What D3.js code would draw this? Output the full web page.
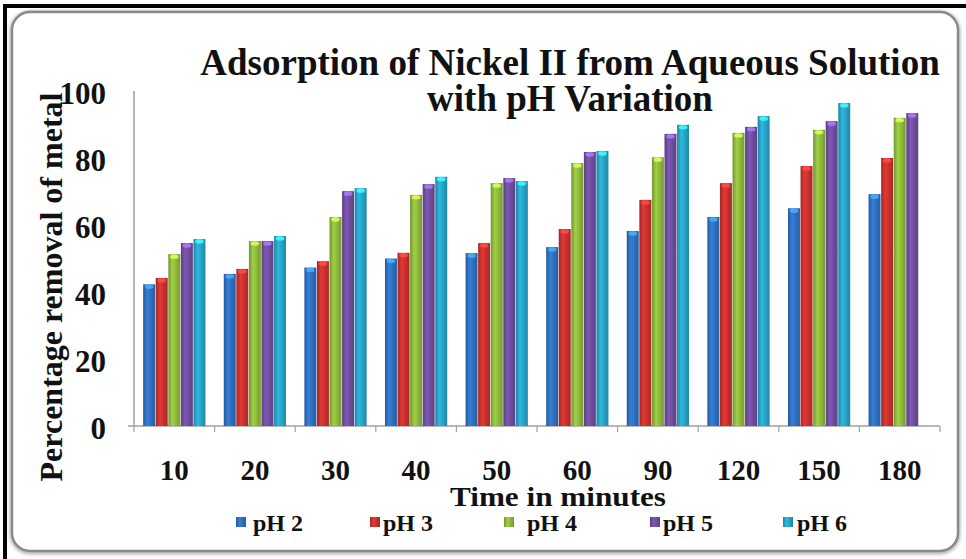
<!DOCTYPE html>
<html>
<head>
<meta charset="utf-8">
<script src="https://cdn.jsdelivr.net/npm/d3@7"></script>
<style>
  body { margin: 0; background: #fff; }
</style>
</head>
<body>
<div id="chart"></div>
<script>
// chart data
var times = ["10", "20", "30", "40", "50", "60", "90", "120", "150", "180"];
var seriesNames = ["pH 2", "pH 3", "pH 4", "pH 5", "pH 6"];
var ph2 = [42.3, 45.4, 47.3, 50.0, 51.6, 53.4, 58.2, 62.4, 65.0, 69.2];
var ph3 = [44.2, 46.9, 49.2, 51.7, 54.6, 58.8, 67.5, 72.5, 77.6, 80.0];
var ph4 = [51.3, 55.2, 62.4, 69.0, 72.5, 78.5, 80.2, 87.5, 88.4, 92.0];
var ph5 = [54.6, 55.2, 70.1, 72.2, 74.0, 81.8, 87.2, 89.3, 91.0, 93.4];
var ph6 = [55.8, 56.7, 71.0, 74.4, 73.1, 82.1, 89.9, 92.5, 96.4, null];
var yTicks = [0, 20, 40, 60, 80, 100];

var allSeries = [ph2, ph3, ph4, ph5, ph6];
var colors = ["#2f6fbf", "#c8312d", "#8db83c", "#6f4e9e", "#27a3c6"];
var serif = "'Liberation Serif', 'Times New Roman', serif";

var W = 966, H = 559;
var svg = d3.select("#chart").append("svg")
    .attr("width", W).attr("height", H)
    .attr("font-family", serif).attr("font-weight", "bold");

var defs = svg.append("defs");
// cylinder-ish shading for the bars
colors.forEach(function(c, i) {
    var g = defs.append("linearGradient").attr("id", "grad" + i)
        .attr("x1", "0%").attr("x2", "100%").attr("y1", "0%").attr("y2", "0%");
    g.append("stop").attr("offset", "0%").attr("stop-color", d3.color(c).darker(0.6));
    g.append("stop").attr("offset", "35%").attr("stop-color", d3.color(c).brighter(0.35));
    g.append("stop").attr("offset", "100%").attr("stop-color", d3.color(c).darker(0.5));
});
var shadow = defs.append("filter").attr("id", "shadow")
    .attr("x", "-5%").attr("y", "-5%").attr("width", "110%").attr("height", "110%");
shadow.append("feGaussianBlur").attr("stdDeviation", 1.5);

// frame
svg.append("rect").attr("x", 0).attr("y", 0).attr("width", W).attr("height", H).attr("fill", "#fff");
svg.append("rect").attr("x", 12).attr("y", 13).attr("width", 946).attr("height", 539)
    .attr("rx", 18).attr("fill", "none").attr("stroke", "#bbb").attr("stroke-width", 5)
    .attr("filter", "url(#shadow)");
svg.append("rect").attr("x", 12).attr("y", 12).attr("width", 946).attr("height", 539)
    .attr("rx", 18).attr("fill", "#fff").attr("stroke", "#8a8a8a").attr("stroke-width", 2.5);
svg.append("rect").attr("x", 3).attr("y", 4).attr("width", W).attr("height", 4).attr("fill", "#000");
svg.append("rect").attr("x", 3).attr("y", 4).attr("width", 4).attr("height", H).attr("fill", "#000");

var x = d3.scaleBand().domain(times).range([134, 940])
    .paddingInner(0.22).paddingOuter(0.11);
var xs = d3.scaleBand().domain(d3.range(seriesNames.length)).range([0, x.bandwidth()]);
var y = d3.scaleLinear().domain([0, 100]).range([426, 91]);

// axes lines
svg.append("line").attr("x1", 134).attr("x2", 134).attr("y1", y(100)).attr("y2", y(0))
    .attr("stroke", "#a0a0a0").attr("stroke-width", 1.5);
svg.append("line").attr("x1", 128).attr("x2", 940).attr("y1", y(0)).attr("y2", y(0))
    .attr("stroke", "#a0a0a0").attr("stroke-width", 1.5);
var step = x.step();
svg.selectAll(".xtick").data(d3.range(times.length + 1)).enter().append("line")
    .attr("class", "xtick")
    .attr("x1", function(i) { return 134 + i * step; })
    .attr("x2", function(i) { return 134 + i * step; })
    .attr("y1", y(0)).attr("y2", y(0) + 6)
    .attr("stroke", "#a0a0a0").attr("stroke-width", 1.2);

// bars
var groups = svg.selectAll(".grp").data(times).enter().append("g")
    .attr("class", "grp")
    .attr("transform", function(d) { return "translate(" + x(d) + ",0)"; });
groups.each(function(t, ti) {
    var g = d3.select(this);
    allSeries.forEach(function(s, si) {
        var v = s[ti];
        if (v == null) return;
        g.append("rect")
            .attr("x", xs(si) + 0.3).attr("width", xs.bandwidth() - 0.6)
            .attr("y", y(v)).attr("height", y(0) - y(v))
            .attr("fill", "url(#grad" + si + ")");
        g.append("ellipse")
            .attr("cx", xs(si) + xs.bandwidth() / 2).attr("cy", y(v) + 2.5)
            .attr("rx", xs.bandwidth() / 2 - 2).attr("ry", 2.2)
            .attr("fill", d3.color(colors[si]).brighter(1.3)).attr("opacity", 0.85);
    });
});

// y tick labels
svg.selectAll(".ylab").data(yTicks).enter().append("text")
    .attr("class", "ylab")
    .attr("x", 106).attr("y", function(d) { return y(d) + 2; })
    .attr("dy", "0.35em").attr("text-anchor", "end")
    .attr("fill", "#111").style("font-size", "31px")
    .text(function(d) { return d; });

// x tick labels
svg.selectAll(".xlab").data(times).enter().append("text")
    .attr("class", "xlab")
    .attr("x", function(d) { return x(d) + x.bandwidth() / 2; })
    .attr("y", 480).attr("text-anchor", "middle")
    .attr("fill", "#111").style("font-size", "29px")
    .text(function(d) { return d; });

// titles
svg.append("text").attr("x", 570).attr("y", 75).attr("text-anchor", "middle")
    .attr("fill", "#111").style("font-size", "37px")
    .text("Adsorption of Nickel II from Aqueous Solution");
svg.append("text").attr("x", 570).attr("y", 111).attr("text-anchor", "middle")
    .attr("fill", "#111").style("font-size", "37px").text("with pH Variation");
svg.append("text").attr("transform", "translate(62,287) rotate(-90)")
    .attr("text-anchor", "middle").attr("fill", "#111").style("font-size", "32px")
    .text("Percentage removal of metal");
svg.append("text").attr("x", 558).attr("y", 506).attr("text-anchor", "middle")
    .attr("fill", "#111").style("font-size", "27px")
    .attr("textLength", 216).attr("lengthAdjust", "spacingAndGlyphs")
    .text("Time in minutes");

// legend
var legendX = [236, 370, 504, 650, 783];
var textX = [253, 383, 527, 663, 797];
seriesNames.forEach(function(n, i) {
    svg.append("rect").attr("x", legendX[i]).attr("y", 517).attr("width", 10).attr("height", 10)
        .attr("fill", "url(#grad" + i + ")");
    svg.append("text").attr("x", textX[i]).attr("y", 531)
        .attr("fill", "#111").style("font-size", "24px").text(n);
});
</script>
</body>
</html>
